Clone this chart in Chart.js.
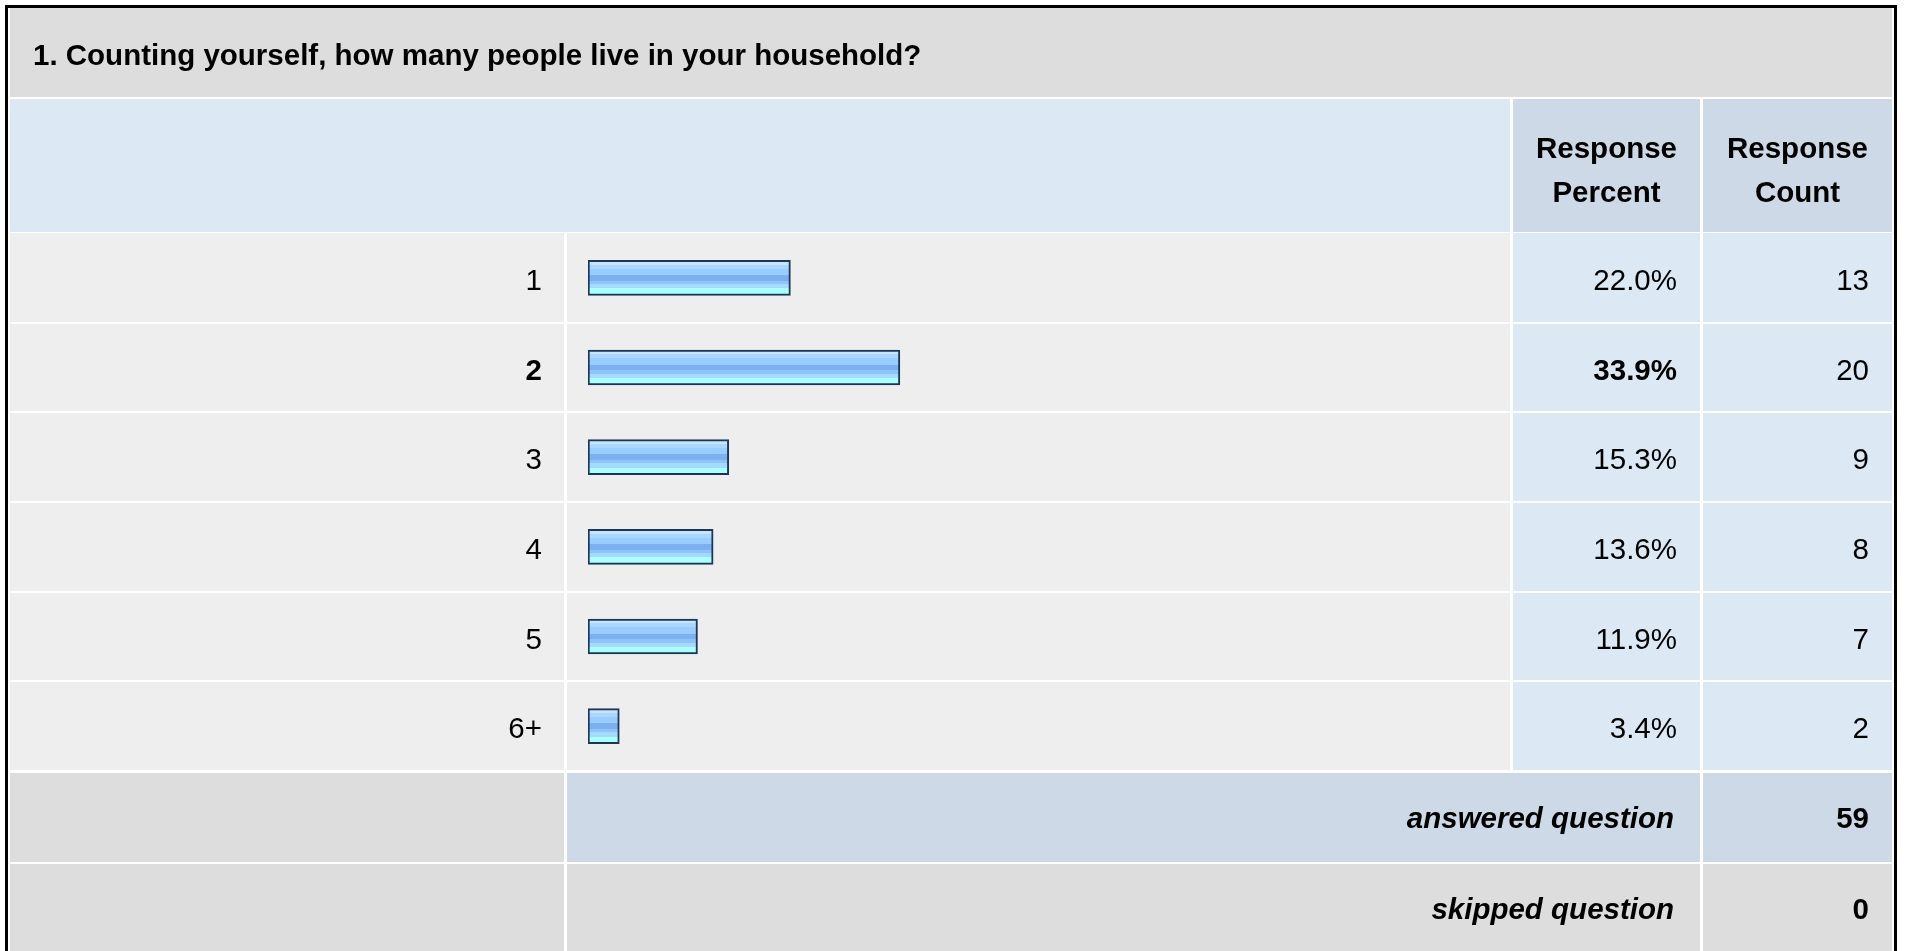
<!DOCTYPE html>
<html>
<head>
<meta charset="utf-8">
<title>Household size</title>
<script src="https://cdn.jsdelivr.net/npm/chart.js@4.4.1/dist/chart.umd.min.js"></script>
<style>
  html, body { margin: 0; padding: 0; background: #fff; overflow: hidden; }
  canvas { display: block; }
</style>
</head>
<body>
<canvas id="survey" width="1907" height="951"></canvas>
<script>
const questionTitle = '1. Counting yourself, how many people live in your household?';
const categories = ['1', '2', '3', '4', '5', '6+'];
const percents = [22.0, 33.9, 15.3, 13.6, 11.9, 3.4];
const counts = [13, 20, 9, 8, 7, 2];
const headPercent = ['Response', 'Percent'];
const headCount = ['Response', 'Count'];
const answeredLabel = 'answered question';
const skippedLabel = 'skipped question';
const answeredCount = 59;
const skippedCount = 0;
const boldRow = 1; // top answer is bold

const FONT = '"Liberation Sans", Arial, Helvetica, sans-serif';
const SIZE = 29.5;
// column edges of the table: label, bar, percent, count
const cols = [[10, 564], [567, 1510], [1513, 1700], [1703, 1892]];

function txt(ctx, s, x, y, align, weight) {
    ctx.font = `${weight || 'normal'} ${SIZE}px ${FONT}`;
    ctx.textAlign = align;
    ctx.textBaseline = 'middle';
    ctx.fillStyle = '#000';
    ctx.fillText(s, x, y);
}

function cell(ctx, x0, x1, y0, y1, color) {
    ctx.fillStyle = color;
    ctx.fillRect(x0, y0, x1 - x0, y1 - y0);
}

const tablePlugin = {
    id: 'surveyTable',
    beforeDraw(chart) {
        const ctx = chart.ctx;
        const ys = chart.scales.y;
        const band = (ys.bottom - ys.top) / categories.length;
        ctx.save();
        ctx.fillStyle = '#fff';
        ctx.fillRect(0, 0, chart.width, chart.height);
        // outer frame
        ctx.fillStyle = '#000';
        ctx.fillRect(5, 5, 3, chart.height - 5);
        ctx.fillRect(5, 5, 1892, 3);
        ctx.fillRect(1894, 5, 3, chart.height - 5);

        cell(ctx, 10, 1892, 8, 97, '#dddddd');
        cell(ctx, 10, 1510, 99, ys.top - 1, '#dde8f5');
        cell(ctx, cols[2][0], cols[2][1], 99, ys.top - 1, '#cdd9e6');
        cell(ctx, cols[3][0], cols[3][1], 99, ys.top - 1, '#cdd9e6');

        categories.forEach((c, i) => {
            const yc = ys.getPixelForValue(i);
            const t = Math.round(yc - band / 2) + (i ? 1 : 0);
            const b = Math.round(yc + band / 2) - 1;
            cell(ctx, cols[0][0], cols[0][1], t, b, '#eeeeee');
            cell(ctx, cols[1][0], cols[1][1], t, b, '#eeeeee');
            cell(ctx, cols[2][0], cols[2][1], t, b, '#dde8f5');
            cell(ctx, cols[3][0], cols[3][1], t, b, '#dde8f5');
        });

        const aTop = ys.bottom + 2, aBot = aTop + 89;
        cell(ctx, cols[0][0], cols[0][1], aTop, aBot, '#dddddd');
        cell(ctx, cols[1][0], cols[2][1], aTop, aBot, '#cdd9e6');
        cell(ctx, cols[3][0], cols[3][1], aTop, aBot, '#cdd9e6');
        const sTop = aBot + 2, sBot = chart.height;
        cell(ctx, cols[0][0], cols[0][1], sTop, sBot, '#dddddd');
        cell(ctx, cols[1][0], cols[2][1], sTop, sBot, '#dddddd');
        cell(ctx, cols[3][0], cols[3][1], sTop, sBot, '#dddddd');
        ctx.restore();
    },
    afterDraw(chart) {
        const ctx = chart.ctx;
        const ys = chart.scales.y;
        ctx.save();
        txt(ctx, questionTitle, 33, 57, 'left', 'bold');
        const pc = (cols[2][0] + cols[2][1]) / 2, cc = (cols[3][0] + cols[3][1]) / 2;
        txt(ctx, headPercent[0], pc, 150, 'center', 'bold');
        txt(ctx, headPercent[1], pc, 194, 'center', 'bold');
        txt(ctx, headCount[0], cc, 150, 'center', 'bold');
        txt(ctx, headCount[1], cc, 194, 'center', 'bold');
        percents.forEach((p, i) => {
            const yc = ys.getPixelForValue(i) + 4;
            txt(ctx, p.toFixed(1) + '%', 1677, yc, 'right', i === boldRow ? 'bold' : 'normal');
            txt(ctx, String(counts[i]), 1869, yc, 'right');
        });
        const aMid = ys.bottom + 2 + 47;
        txt(ctx, answeredLabel, 1674, aMid, 'right', 'italic bold');
        txt(ctx, String(answeredCount), 1869, aMid, 'right', 'bold');
        const sMid = aMid + 91;
        txt(ctx, skippedLabel, 1674, sMid, 'right', 'italic bold');
        txt(ctx, String(skippedCount), 1869, sMid, 'right', 'bold');
        ctx.restore();
    }
};

function barFill(c) {
    const chart = c.chart;
    if (!chart.chartArea) return '#99ccff';
    const yc = chart.scales.y.getPixelForValue(c.dataIndex);
    const g = chart.ctx.createLinearGradient(0, yc - 17.5, 0, yc + 17.5);
    const stripes = [
        [0, 0.12, '#c4e4ff'], [0.12, 0.24, '#aad6ff'], [0.24, 0.42, '#99ccff'],
        [0.42, 0.58, '#7cb0f0'], [0.58, 0.68, '#90c4f8'], [0.68, 0.8, '#a4daff'],
        [0.8, 1, '#acffff']
    ];
    stripes.forEach(s => { g.addColorStop(s[0], s[2]); g.addColorStop(s[1], s[2]); });
    return g;
}

const chart = new Chart(document.getElementById('survey').getContext('2d'), {
    type: 'bar',
    data: {
        labels: categories,
        datasets: [{
            label: 'Response Percent',
            data: percents,
            backgroundColor: barFill,
            borderColor: '#1c3658',
            borderWidth: 2,
            borderSkipped: false,
            barThickness: 35
        }]
    },
    options: {
        indexAxis: 'y',
        responsive: false,
        animation: false,
        events: [],
        layout: { padding: { left: 0, right: 399, top: 233, bottom: 180 } },
        scales: {
            x: { display: false, min: 0, max: 100 },
            y: {
                grid: { display: false, drawTicks: false, tickLength: 0 },
                border: { display: false },
                ticks: {
                    padding: 46,
                    labelOffset: 4,
                    color: '#000',
                    autoSkip: false,
                    font: (c) => ({ family: FONT, size: SIZE, weight: c.index === boldRow ? 'bold' : 'normal' })
                },
                afterFit(scale) { scale.width = 588; }
            }
        },
        plugins: {
            legend: { display: false },
            tooltip: { enabled: false }
        }
    },
    plugins: [tablePlugin]
});
</script>
</body>
</html>
